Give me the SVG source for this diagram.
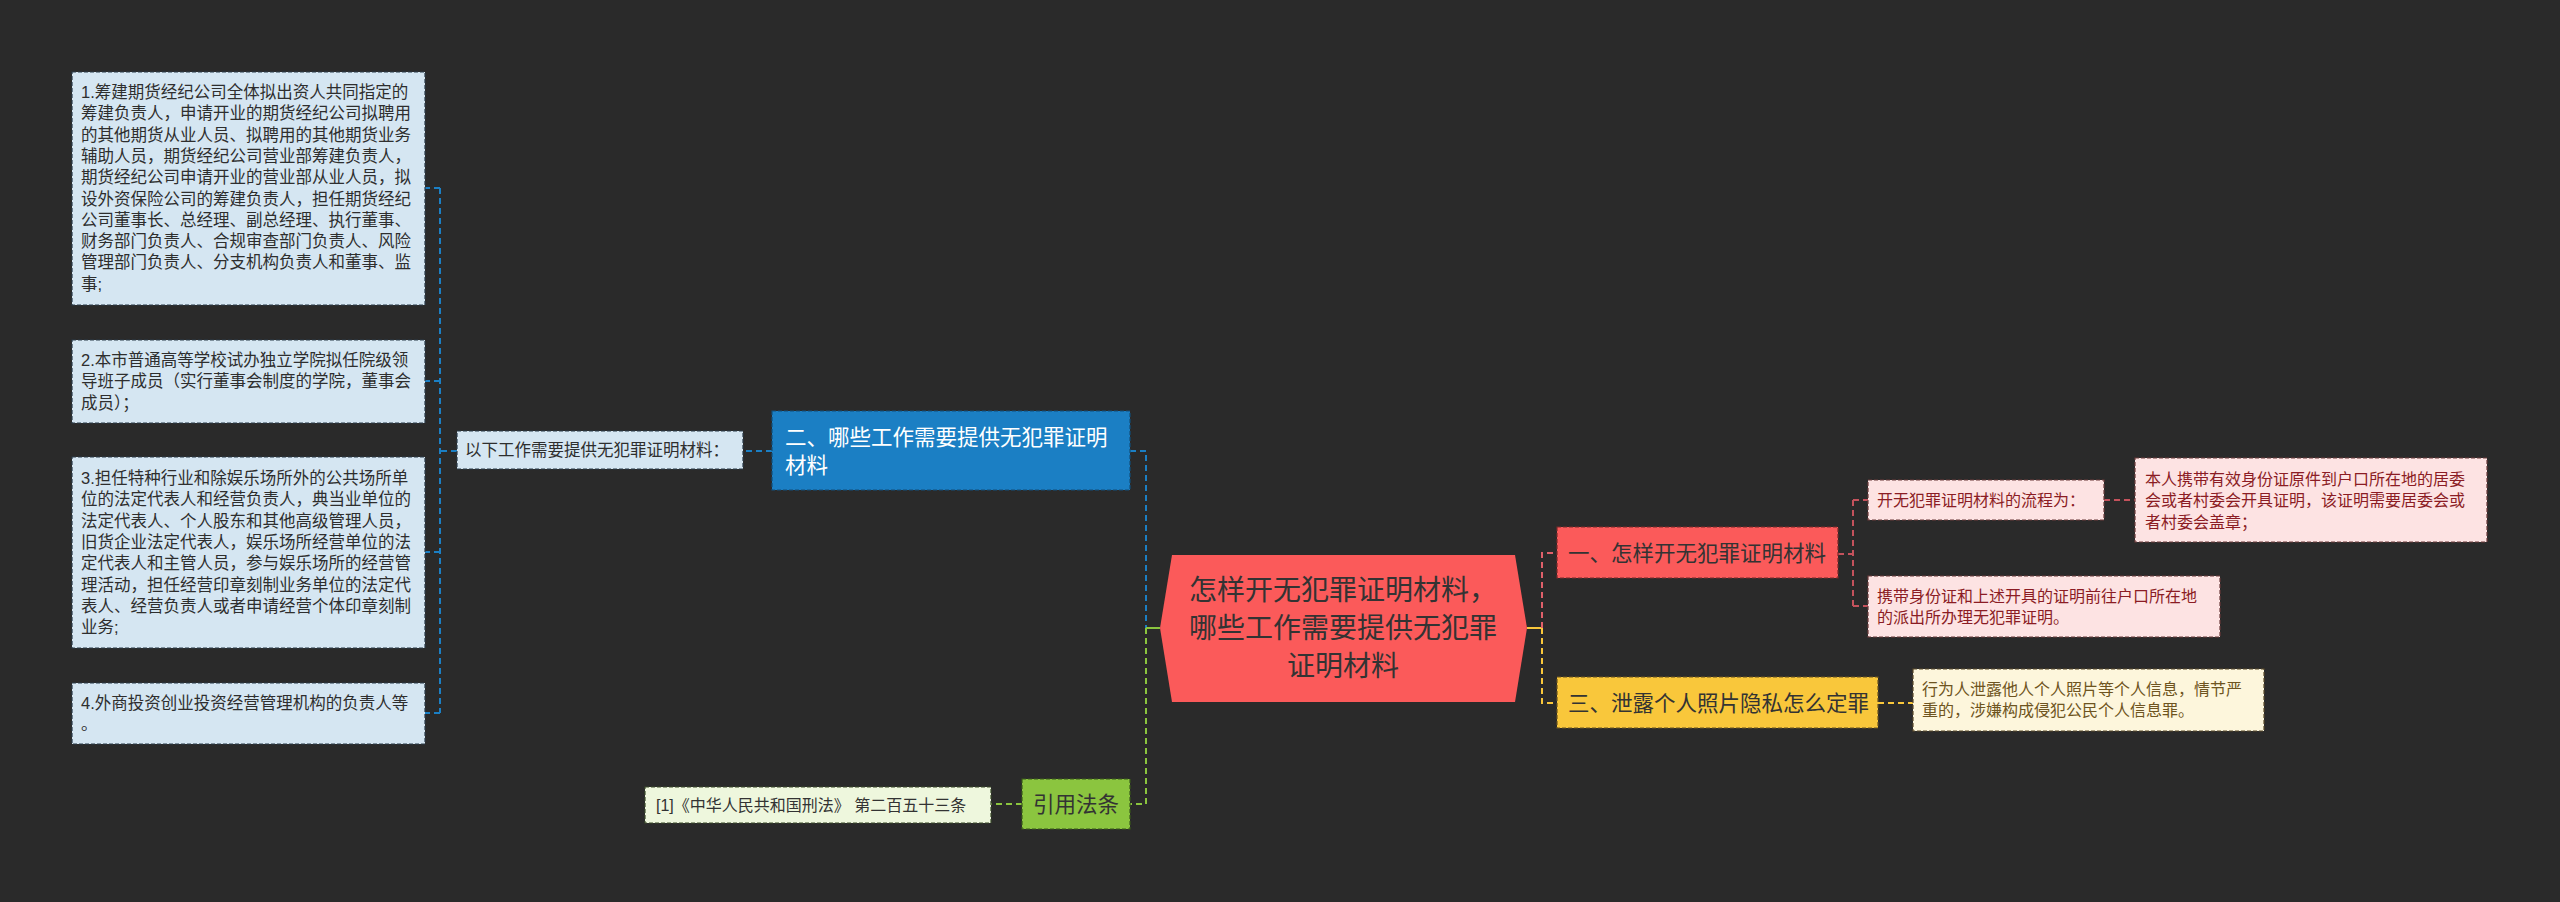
<svg xmlns="http://www.w3.org/2000/svg" width="2560" height="902" viewBox="0 0 2560 902">
<style>
text{font-family:"Liberation Sans","Noto Sans CJK SC",sans-serif;}
.lb{fill:#d5e6f2;stroke:#2a3a48;stroke-width:1.2;stroke-dasharray:4 2;}
.lt{font-size:16.5px;fill:#2e2e2e;}
.pk{fill:#fde3e3;stroke:#6a3a3a;stroke-width:1.2;stroke-dasharray:4 2;}
.pt{font-size:16px;fill:#8b1c24;}
.cr{fill:#fdf6dc;stroke:#5a4a2a;stroke-width:1.2;stroke-dasharray:4 2;}
.ct{font-size:16px;fill:#6e5420;}
.lg{fill:#eef7dd;stroke:#3a4a2a;stroke-width:1.2;stroke-dasharray:4 2;}
.gt{font-size:16px;fill:#333;}
.mt{font-size:21.5px;fill:#333;}
.c{fill:none;stroke-width:2;stroke-dasharray:6 4;}
</style>
<rect x="0" y="0" width="2560" height="902" fill="#2a2a2a"/>
<g id="connectors">
<path class="c" stroke="#1b7fc4" d="M1130,451 H1146 V628"/>
<path class="c" stroke="#1b7fc4" d="M772,451 H743"/>
<path class="c" stroke="#1b7fc4" d="M457,451 H440 M440,188 V713 M440,188 H425 M440,381 H425 M440,552 H425 M440,713 H425"/>
<path d="M1160,628 H1146" stroke="#8bc53f" stroke-width="2" fill="none"/>
<path class="c" stroke="#8bc53f" d="M1146,628 V804 H1130"/>
<path class="c" stroke="#8bc53f" d="M1022,804 H991"/>
<path d="M1527,628 H1542" stroke="#f9c73b" stroke-width="2" fill="none"/>
<path class="c" stroke="#e0606a" d="M1542,628 V553 H1557"/>
<path class="c" stroke="#f9c73b" d="M1542,628 V703 H1557"/>
<path class="c" stroke="#f9c73b" d="M1878,703 H1913"/>
<path class="c" stroke="#c4525c" d="M1838,554 H1853 M1853,500 V606 M1853,500 H1868 M1853,606 H1868"/>
<path class="c" stroke="#c4525c" d="M2104,500 H2135"/>
</g>
<g id="center">
<polygon points="1172,555 1515,555 1527,628 1515,702 1172,702 1160,628" fill="#fb5a5a"/>
<text x="1343" y="600" font-size="28" fill="#333" text-anchor="middle">怎样开无犯罪证明材料，</text>
<text x="1343" y="638" font-size="28" fill="#333" text-anchor="middle">哪些工作需要提供无犯罪</text>
<text x="1343" y="676" font-size="28" fill="#333" text-anchor="middle">证明材料</text>
</g>
<g id="n2">
<rect x="772" y="411" width="358" height="79" fill="#1b7fc4" stroke="#124f7a" stroke-width="1.2" stroke-dasharray="4 2"/>
<text x="785" y="445" font-size="21.5" fill="#fff">二、哪些工作需要提供无犯罪证明</text>
<text x="785" y="473" font-size="21.5" fill="#fff">材料</text>
</g>
<g id="n2a">
<rect class="lb" x="457" y="431" width="286" height="38"/>
<text class="lt" x="465" y="456">以下工作需要提供无犯罪证明材料：</text>
</g>
<g id="b1">
<rect class="lb" x="72" y="72" width="353" height="233"/>
<text class="lt" x="81" y="98">1.筹建期货经纪公司全体拟出资人共同指定的<tspan x="81" dy="21.3">筹建负责人，申请开业的期货经纪公司拟聘用</tspan><tspan x="81" dy="21.3">的其他期货从业人员、拟聘用的其他期货业务</tspan><tspan x="81" dy="21.3">辅助人员，期货经纪公司营业部筹建负责人，</tspan><tspan x="81" dy="21.3">期货经纪公司申请开业的营业部从业人员，拟</tspan><tspan x="81" dy="21.3">设外资保险公司的筹建负责人，担任期货经纪</tspan><tspan x="81" dy="21.3">公司董事长、总经理、副总经理、执行董事、</tspan><tspan x="81" dy="21.3">财务部门负责人、合规审查部门负责人、风险</tspan><tspan x="81" dy="21.3">管理部门负责人、分支机构负责人和董事、监</tspan><tspan x="81" dy="21.3">事;</tspan></text>
</g>
<g id="b2">
<rect class="lb" x="72" y="340" width="353" height="83"/>
<text class="lt" x="81" y="366">2.本市普通高等学校试办独立学院拟任院级领<tspan x="81" dy="21.3">导班子成员（实行董事会制度的学院，董事会</tspan><tspan x="81" dy="21.3">成员）；</tspan></text>
</g>
<g id="b3">
<rect class="lb" x="72" y="457" width="353" height="191"/>
<text class="lt" x="81" y="484">3.担任特种行业和除娱乐场所外的公共场所单<tspan x="81" dy="21.3">位的法定代表人和经营负责人，典当业单位的</tspan><tspan x="81" dy="21.3">法定代表人、个人股东和其他高级管理人员，</tspan><tspan x="81" dy="21.3">旧货企业法定代表人，娱乐场所经营单位的法</tspan><tspan x="81" dy="21.3">定代表人和主管人员，参与娱乐场所的经营管</tspan><tspan x="81" dy="21.3">理活动，担任经营印章刻制业务单位的法定代</tspan><tspan x="81" dy="21.3">表人、经营负责人或者申请经营个体印章刻制</tspan><tspan x="81" dy="21.3">业务;</tspan></text>
</g>
<g id="b4">
<rect class="lb" x="72" y="683" width="353" height="61"/>
<text class="lt" x="81" y="709">4.外商投资创业投资经营管理机构的负责人等<tspan x="81" dy="21.3">。</tspan></text>
</g>
<g id="n1">
<rect x="1557" y="527" width="281" height="51" fill="#fb5a5a" stroke="#7a2a2a" stroke-width="1.2" stroke-dasharray="4 2"/>
<text class="mt" x="1568" y="561">一、怎样开无犯罪证明材料</text>
</g>
<g id="n1a">
<rect class="pk" x="1868" y="480" width="236" height="40"/>
<text class="pt" x="1877" y="506">开无犯罪证明材料的流程为：</text>
</g>
<g id="n1a1">
<rect class="pk" x="2135" y="458" width="352" height="84"/>
<text class="pt" x="2145" y="485">本人携带有效身份证原件到户口所在地的居委<tspan x="2145" dy="21.3">会或者村委会开具证明，该证明需要居委会或</tspan><tspan x="2145" dy="21.3">者村委会盖章；</tspan></text>
</g>
<g id="n1b">
<rect class="pk" x="1868" y="576" width="352" height="61"/>
<text class="pt" x="1877" y="602">携带身份证和上述开具的证明前往户口所在地<tspan x="1877" dy="21.3">的派出所办理无犯罪证明。</tspan></text>
</g>
<g id="n3">
<rect x="1557" y="677" width="321" height="51" fill="#f9c73b" stroke="#6a5420" stroke-width="1.2" stroke-dasharray="4 2"/>
<text class="mt" x="1568" y="711">三、泄露个人照片隐私怎么定罪</text>
</g>
<g id="n3a">
<rect class="cr" x="1913" y="669" width="351" height="62"/>
<text class="ct" x="1922" y="695">行为人泄露他人个人照片等个人信息，情节严<tspan x="1922" dy="21.3">重的，涉嫌构成侵犯公民个人信息罪。</tspan></text>
</g>
<g id="n4">
<rect x="1022" y="779" width="108" height="50" fill="#8bc53f" stroke="#3a5a1a" stroke-width="1.2" stroke-dasharray="4 2"/>
<text class="mt" x="1076" y="812" text-anchor="middle">引用法条</text>
</g>
<g id="n4a">
<rect class="lg" x="645" y="787" width="346" height="36"/>
<text class="gt" x="656" y="811">[1]《中华人民共和国刑法》 第二百五十三条</text>
</g>
</svg>
